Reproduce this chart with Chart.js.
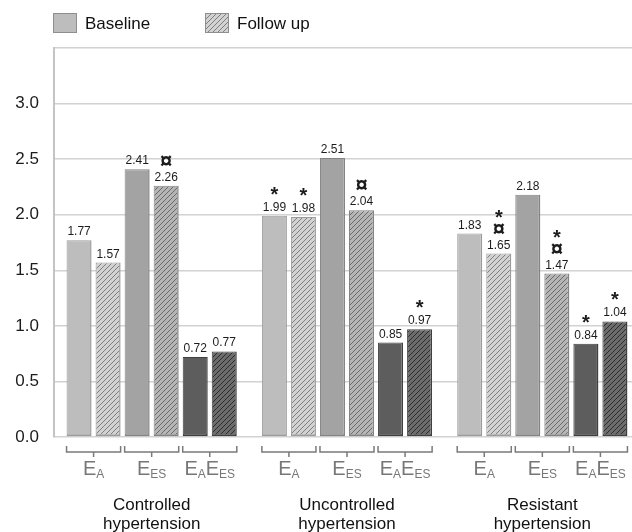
<!DOCTYPE html>
<html>
<head>
<meta charset="utf-8">
<script src="https://cdn.jsdelivr.net/npm/chart.js@4.4.0/dist/chart.umd.min.js"></script>
<style>
  html, body { margin: 0; padding: 0; background: #fff; overflow: hidden; }
  canvas { display: block; }
</style>
</head>
<body>
<canvas id="chart" width="640" height="532"></canvas>
<script>
// groups on the x axis
const groups = [['Controlled', 'hypertension'], ['Uncontrolled', 'hypertension'], ['Resistant', 'hypertension']];

// values per measure, one entry per group
const eaBaseline = [1.77, 1.99, 1.83];
const eaFollowUp = [1.57, 1.98, 1.65];
const eesBaseline = [2.41, 2.51, 2.18];
const eesFollowUp = [2.26, 2.04, 1.47];
const eaeesBaseline = [0.72, 0.85, 0.84];
const eaeesFollowUp = [0.77, 0.97, 1.04];

// significance marks printed above the values
const eaBaselineMarks = ['', '*', ''];
const eaFollowUpMarks = ['', '*', '*¤'];
const eesBaselineMarks = ['', '', ''];
const eesFollowUpMarks = ['¤', '¤', '*¤'];
const eaeesBaselineMarks = ['', '', '*'];
const eaeesFollowUpMarks = ['', '*', '*'];

// measure names under the brackets: [letter, subscript] pairs
const measureLabels = [[['E', 'A']], [['E', 'ES']], [['E', 'A'], ['E', 'ES']]];
const legendLabels = ['Baseline', 'Follow up'];
const yTicks = [0, 0.5, 1.0, 1.5, 2.0, 2.5, 3.0];

const FONT = "'Liberation Sans', Arial, sans-serif";

const solid = ['#bdbdbd', '#a3a3a3', '#5d5d5d'];
const edge = ['#9c9c9c', '#848484', '#404040'];
const hatchBg = ['#d2d2d2', '#b5b5b5', '#6c6c6c'];
const hatchLine = ['#7e7e7e', '#6a6a6a', '#2c2c2c'];

function hatch(bg, line) {
    const c = document.createElement('canvas');
    c.width = 5; c.height = 5;
    const x = c.getContext('2d');
    x.fillStyle = bg;
    x.fillRect(0, 0, 5, 5);
    x.strokeStyle = line;
    x.lineWidth = 1;
    x.beginPath();
    x.moveTo(-1, 6); x.lineTo(6, -1);
    x.moveTo(-1, 1); x.lineTo(1, -1);
    x.moveTo(4, 6); x.lineTo(6, 4);
    x.stroke();
    return document.getElementById('chart').getContext('2d').createPattern(c, 'repeat');
}

const series = [eaBaseline, eaFollowUp, eesBaseline, eesFollowUp, eaeesBaseline, eaeesFollowUp];
const marks = [eaBaselineMarks, eaFollowUpMarks, eesBaselineMarks, eesFollowUpMarks, eaeesBaselineMarks, eaeesFollowUpMarks];

const datasets = series.map((values, d) => {
    const m = Math.floor(d / 2);
    const followUp = d % 2 === 1;
    return {
        label: legendLabels[d % 2],
        data: values,
        backgroundColor: followUp ? hatch(hatchBg[m], hatchLine[m]) : solid[m],
        borderColor: edge[m],
        borderWidth: { top: 1, left: 1, right: 1.5, bottom: 2 },
        borderSkipped: false,
        categoryPercentage: 0.892,
        barPercentage: 0.862
    };
});

function centeredBaseline(ctx, text, cy) {
    const m = ctx.measureText(text);
    return cy + (m.actualBoundingBoxAscent - m.actualBoundingBoxDescent) / 2;
}

const annotate = {
    id: 'annotate',
    afterDatasetsDraw(chart) {
        const ctx = chart.ctx;
        ctx.save();
        ctx.textAlign = 'center';
        ctx.textBaseline = 'alphabetic';

        // values and marks
        chart.data.datasets.forEach((ds, d) => {
            chart.getDatasetMeta(d).data.forEach((bar, i) => {
                ctx.fillStyle = '#1c1c1c';
                ctx.font = '12px ' + FONT;
                const base = bar.y - 5;
                ctx.fillText(ds.data[i].toFixed(2), bar.x, base);
                const m = marks[d][i];
                let cy = base - 4 - 16;
                for (let k = m.length - 1; k >= 0; k--) {
                    const ch = m[k];
                    ctx.font = (ch === '*' ? 'bold 20px ' : 'bold 22px ') + FONT;
                    ctx.fillText(ch, bar.x, centeredBaseline(ctx, ch, cy));
                    cy -= 15;
                }
            });
        });

        // brackets and measure names
        const y0 = chart.chartArea.bottom;
        ctx.strokeStyle = '#7a7a7a';
        ctx.fillStyle = '#777';
        ctx.lineWidth = 1.5;
        for (let g = 0; g < groups.length; g++) {
            for (let m = 0; m < measureLabels.length; m++) {
                const a = chart.getDatasetMeta(m * 2).data[g];
                const b = chart.getDatasetMeta(m * 2 + 1).data[g];
                const left = a.x - a.width / 2;
                const right = b.x + b.width / 2;
                const cx = (left + right) / 2;
                const ly = y0 + 15;
                ctx.beginPath();
                ctx.moveTo(left, ly - 6); ctx.lineTo(left, ly);
                ctx.lineTo(right, ly); ctx.lineTo(right, ly - 6);
                ctx.moveTo(cx, ly); ctx.lineTo(cx, ly + 5);
                ctx.stroke();

                const parts = measureLabels[m];
                let total = 0;
                parts.forEach(p => {
                    ctx.font = '20px ' + FONT; total += ctx.measureText(p[0]).width;
                    ctx.font = '12px ' + FONT; total += ctx.measureText(p[1]).width;
                });
                let x = cx - total / 2;
                ctx.textAlign = 'left';
                parts.forEach(p => {
                    ctx.font = '20px ' + FONT;
                    ctx.fillText(p[0], x, y0 + 38);
                    x += ctx.measureText(p[0]).width;
                    ctx.font = '12px ' + FONT;
                    ctx.fillText(p[1], x, y0 + 41);
                    x += ctx.measureText(p[1]).width;
                });
                ctx.textAlign = 'center';
            }
        }

        // legend
        ctx.textAlign = 'left';
        ctx.textBaseline = 'middle';
        ctx.font = '17px ' + FONT;
        const items = [{ x: 53, ds: chart.data.datasets[0] }, { x: 205, ds: chart.data.datasets[1] }];
        items.forEach((it, k) => {
            ctx.fillStyle = it.ds.backgroundColor;
            ctx.fillRect(it.x, 13, 24, 20);
            ctx.strokeStyle = '#8e8e8e';
            ctx.lineWidth = 1;
            ctx.strokeRect(it.x + 0.5, 13.5, 23, 19);
            ctx.fillStyle = '#111';
            ctx.fillText(legendLabels[k], it.x + 32, 24);
        });
        ctx.restore();
    }
};

new Chart(document.getElementById('chart'), {
    type: 'bar',
    data: { labels: groups, datasets: datasets },
    options: {
        responsive: false,
        animation: false,
        devicePixelRatio: 1,
        layout: { padding: { top: 48, left: 0, right: 0, bottom: 0 } },
        plugins: { legend: { display: false }, tooltip: { enabled: false } },
        scales: {
            x: {
                grid: { display: false, drawTicks: false },
                border: { display: false },
                ticks: {
                    color: '#111',
                    font: { family: FONT, size: 17, lineHeight: 1.1 },
                    padding: 59,
                    maxRotation: 0
                },
                afterFit: s => {
                    s.height = 95;
                    s.paddingLeft = 0;
                    s.paddingRight = 0;
                }
            },
            y: {
                min: 0,
                max: 3.5,
                afterBuildTicks: s => {
                    s.ticks = yTicks.concat([3.5]).map(v => ({ value: v }));
                },
                ticks: {
                    color: '#1c1c1c',
                    font: { family: FONT, size: 17 },
                    padding: 15,
                    callback: v => (yTicks.includes(v) ? v.toFixed(1) : '')
                },
                grid: { color: '#d2d2d2', lineWidth: 1.5, drawTicks: false },
                border: { color: '#c4c4c4', width: 2 },
                afterFit: s => { s.width = 54; }
            }
        }
    },
    plugins: [annotate]
});
</script>
</body>
</html>
